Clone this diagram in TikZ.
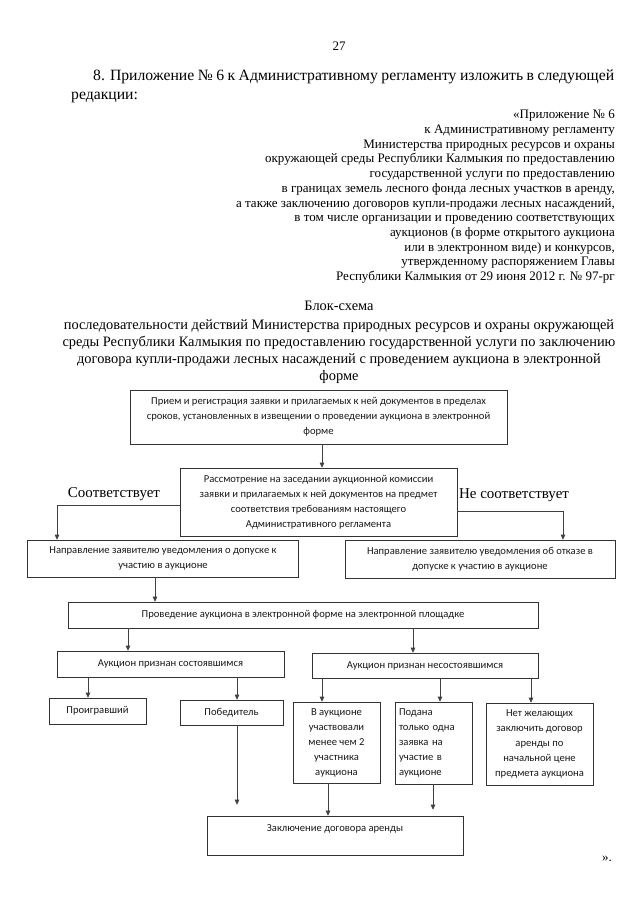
\documentclass[tikz,border=0pt]{standalone}
\usepackage{fontspec}
\setmainfont{Liberation Serif}
\newfontfamily\boxfont{Carlito}
\usetikzlibrary{arrows.meta}
\begin{document}
\begin{tikzpicture}[x=1pt,y=-1pt,
  box/.style={draw=black!80, line width=0.6pt, inner sep=0pt, align=center,
    font=\boxfont\fontsize{10.6}{15}\selectfont, text=black!90},
  arr/.style={draw=black!75, line width=0.6pt, -{Triangle[width=4.5pt,length=5pt]}},
  ln/.style={draw=black!75, line width=0.6pt},
  lbl/.style={inner sep=0pt, font=\fontsize{15}{17}\selectfont}]
\useasboundingbox (0,0) rectangle (640,905);
\fill[white] (0,0) rectangle (640,905);

% header
\node[inner sep=0pt, font=\fontsize{13}{15}\selectfont] (pg) at (339,46) {27};
\node[anchor=north west, inner sep=0pt, text width=543pt, align=justify,
  font=\fontsize{15.7}{19}\selectfont] (p8) at (71,70)
  {\hspace*{22pt}8. Приложение № 6 к Административному регламенту изложить в~следующей\linebreak редакции:};
\node[anchor=north east, inner sep=0pt, align=right,
  font=\fontsize{13}{14.7}\selectfont] (app) at (615,110)
  {«Приложение № 6\\
   к Административному регламенту\\
   Министерства природных ресурсов и охраны\\
   окружающей среды Республики Калмыкия по предоставлению\\
   государственной услуги по предоставлению\\
   в границах земель лесного фонда лесных участков в аренду,\\
   а также заключению договоров купли-продажи лесных насаждений,\\
   в том числе организации и проведению соответствующих\\
   аукционов (в форме открытого аукциона\\
   или в электронном виде) и конкурсов,\\
   утвержденному распоряжением Главы\\
   Республики Калмыкия от 29 июня 2012 г. № 97-рг};
\node[anchor=north, inner sep=0pt, align=center,
  font=\fontsize{14.4}{17.2}\selectfont] (title) at (339,301)
  {Блок-схема\\[1.5pt]
   последовательности действий Министерства природных ресурсов и охраны окружающей\\
   среды Республики Калмыкия по предоставлению государственной услуги по заключению\\
   договора купли-продажи лесных насаждений с проведением аукциона в электронной\\
   форме};

% boxes
\node[box, minimum width=377pt, minimum height=54pt] (b1) at (318.5,417)
  {Прием и регистрация заявки и прилагаемых к ней документов в пределах\\
   сроков, установленных в извещении о проведении аукциона в электронной\\
   форме};
\node[box, minimum width=277pt, minimum height=68pt] (b2) at (318.5,502)
  {Рассмотрение на заседании аукционной комиссии\\
   заявки и прилагаемых к ней документов на предмет\\
   соответствия требованиям настоящего\\
   Административного регламента};
\node[box, minimum width=271pt, minimum height=37pt] (b3) at (163,558.5)
  {Направление заявителю уведомления о допуске к\\ участию в аукционе};
\node[box, minimum width=270pt, minimum height=38pt] (b4) at (480,559)
  {Направление заявителю уведомления об отказе в\\ допуске к участию в аукционе};
\node[box, minimum width=470pt, minimum height=26pt] (b5) at (303,615)
  {Проведение аукциона в электронной форме на электронной площадке};
\node[box, minimum width=227pt, minimum height=26pt] (b6) at (170.5,664)
  {Аукцион признан состоявшимся};
\node[box, minimum width=226pt, minimum height=25pt] (b7) at (425,665.5)
  {Аукцион признан несостоявшимся};
\node[box, minimum width=97pt, minimum height=26pt] (b8) at (97.5,711)
  {Проигравший};
\node[box, minimum width=103pt, minimum height=25pt] (b9) at (231.5,712.5)
  {Победитель};
\node[box, minimum width=87pt, minimum height=81pt] (b10) at (336.5,742.5)
  {В аукционе\\ участвовали\\ менее чем 2\\ участника\\ аукциона};
\node[box, minimum width=77pt, minimum height=82pt, text width=69pt, inner xsep=4pt,
  align=left] (b11) at (433.5,743)
  {Подана\\ только одна\\ заявка на\\ участие в\\ аукционе};
\node[box, minimum width=107pt, minimum height=82pt] (b12) at (539.5,744)
  {Нет желающих\\ заключить договор\\ аренды по\\ начальной цене\\ предмета аукциона};
\node[box, minimum width=256pt, minimum height=39pt] (b13) at (335,835.5)
  {Заключение договора аренды\\ \mbox{}};

\node[inner sep=0pt, font=\fontsize{13}{15}\selectfont] (close) at (607,859) {».};

% connector x positions
\coordinate (x12) at (322,0);
\coordinate (xL) at (57,0);
\coordinate (xR) at (563,0);
\coordinate (x35) at (155,0);
\coordinate (x56) at (128,0);
\coordinate (x57) at (413,0);
\coordinate (x68) at (88,0);
\coordinate (x69) at (237,0);
\coordinate (x710) at (322,0);
\coordinate (x711) at (440,0);
\coordinate (x712) at (531,0);
\coordinate (x1013) at (328,0);
\coordinate (x1113) at (433,0);

% connectors
\draw[arr] (b1.south -| x12) -- (b2.north -| x12);
\draw[arr] ([yshift=-3pt]b2.west) -| (b3.north -| xL);
\draw[arr] ([yshift=-9pt]b2.east) -| (b4.north -| xR);
\node[lbl] (yes) at (114,494) {Соответствует};
\node[lbl] (no) at (514,495) {Не соответствует};
\draw[arr] (b3.south -| x35) -- (b5.north -| x35);
\draw[arr] (b5.south -| x56) -- (b6.north -| x56);
\draw[arr] (b5.south -| x57) -- (b7.north -| x57);
\draw[arr] (b6.south -| x68) -- (b8.north -| x68);
\draw[arr] (b6.south -| x69) -- (b9.north -| x69);
\draw[arr] (b7.south -| x710) -- (b10.north -| x710);
\draw[arr] (b7.south -| x711) -- (b11.north -| x711);
\draw[arr] (b7.south -| x712) -- (b12.north -| x712);
\draw[arr, shorten >=11pt] (b9.south -| x69) -- (b13.north -| x69);
\draw[arr] (b10.south -| x1013) -- (b13.north -| x1013);
\draw[arr, shorten >=6pt] (b11.south -| x1113) -- (b13.north -| x1113);
\end{tikzpicture}
\end{document}
